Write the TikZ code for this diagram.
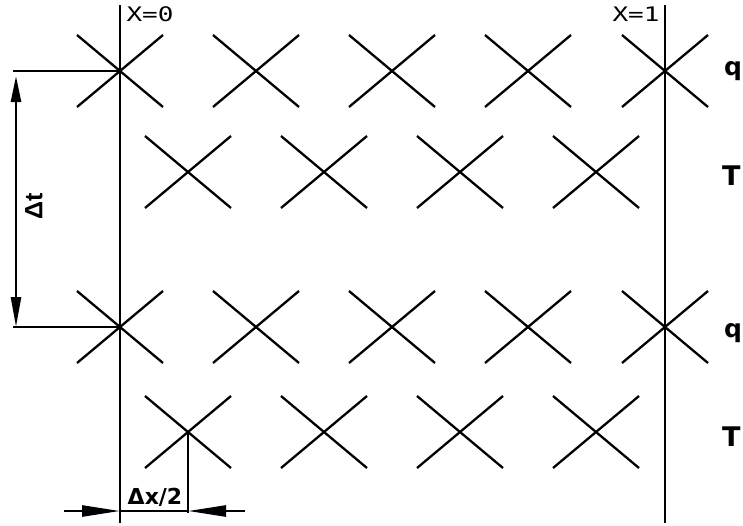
\documentclass[tikz,border=0pt]{standalone}
\usepackage{fontspec}
\setmainfont{DejaVu Sans}
\newfontfamily\cadfont{DejaVu Sans Mono}
\newfontfamily\lsans{Liberation Sans}
\usetikzlibrary{arrows.meta}
\begin{document}
\begin{tikzpicture}[x=1pt,y=-1pt,
  gridline/.style={line width=2.8pt},
  crossline/.style={line width=2.3pt},
  dimline/.style={line width=2.5pt},
  lbl/.style={inner sep=0pt},
  rowq/.style={lbl,font=\fontsize{25}{25}\selectfont\bfseries},
  rowt/.style={lbl,anchor=west,font=\fontsize{27}{27}\selectfont\bfseries},
  caplabel/.style={lbl,xscale=1.3,font=\cadfont\fontsize{20}{20}\selectfont},
]
\useasboundingbox (0,0) rectangle (743,525);

% grid points
\foreach \i/\x in {1/120,2/256,3/392,4/528,5/665}{
  \coordinate (qa\i) at (\x,71);
  \coordinate (qb\i) at (\x,327);
}
\foreach \i/\x in {1/188,2/324,3/460,4/596}{
  \coordinate (ta\i) at (\x,172);
  \coordinate (tb\i) at (\x,432);
}

% crosses
\foreach \c in {qa1,qa2,qa3,qa4,qa5,qb1,qb2,qb3,qb4,qb5,ta1,ta2,ta3,ta4,tb1,tb2,tb3,tb4}{
  \draw[crossline] (\c) ++(-43,-36) -- ++(86,72);
  \draw[crossline] (\c) ++(-43,36) -- ++(86,-72);
}

% boundary lines
\coordinate (l0t) at (120,5);
\coordinate (l0b) at (120,523);
\coordinate (l1t) at (665,5);
\coordinate (l1b) at (665,523);
\draw[gridline] (l0t) -- (l0b);
\draw[gridline] (l1t) -- (l1b);

\node[caplabel] (x0) at (150,14) {X=0};
\node[caplabel] (x1) at (636,14) {X=1};

% Delta t dimension
\coordinate (ext1) at (13,71);
\coordinate (ext2) at (13,327);
\draw[dimline] (ext1) -- (qa1);
\draw[dimline] (ext2) -- (qb1);
\coordinate (dtTop) at (16,76);
\coordinate (dtBot) at (16,327);
\draw[dimline,{Triangle[length=26pt,width=10pt]}-{Triangle[length=30pt,width=10pt]}] (dtTop) -- (dtBot);
\node[lbl,rotate=90,font=\lsans\fontsize{25}{25}\selectfont\bfseries] (dt) at (34,206) {Δt};

% Delta x/2 dimension
\coordinate (dxe) at (188,513);
\draw[dimline] (tb1) -- (dxe);
\coordinate (dxL) at (64,511);
\coordinate (dxa) at (120,511);
\coordinate (dxb) at (188,511);
\coordinate (dxR) at (245,511);
\draw[dimline,-{Triangle[length=38pt,width=11pt]}] (dxL) -- (dxa);
\draw[dimline,-{Triangle[length=38pt,width=11pt]}] (dxR) -- (dxb);
\draw[dimline] (dxa) -- (dxb);
\node[lbl,font=\fontsize{22}{22}\selectfont\bfseries] (dx) at (155,497) {Δx/2};

% row labels
\node[rowq] (q1) at (733,71) {q};
\node[rowq] (q2) at (733,333) {q};
\node[rowt] (t1) at (722,176) {T};
\node[rowt] (t2) at (722,437) {T};
\end{tikzpicture}
\end{document}
